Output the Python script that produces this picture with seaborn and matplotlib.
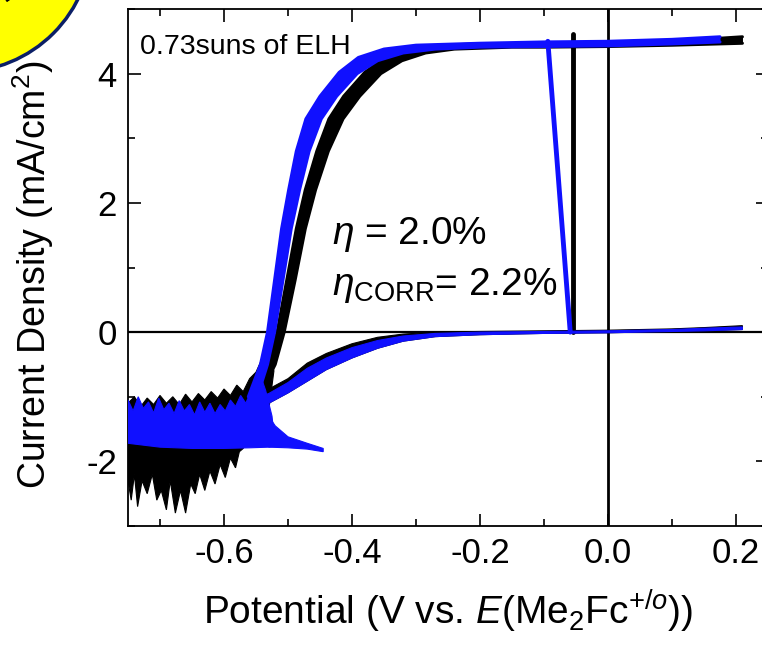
import matplotlib
matplotlib.use("Agg")
import matplotlib.pyplot as plt
from matplotlib.patches import Ellipse
from matplotlib.ticker import MultipleLocator
import seaborn as sns
import numpy as np

# ---------------- data ----------------
# illuminated (upper) branch, left / right edges of the band of cycles
BLUE_UP_L_X = [-0.562, -0.543, -0.532, -0.521, -0.510, -0.499, -0.487, -0.472, -0.450, -0.420, -0.390, -0.350, -0.300, -0.200, -0.100, 0.000, 0.100, 0.175]
BLUE_UP_L_Y = [-1.00, -0.50, 0.00, 0.80, 1.60, 2.20, 2.80, 3.30, 3.65, 4.02, 4.25, 4.38, 4.44, 4.47, 4.49, 4.50, 4.53, 4.57]
BLUE_UP_R_X = [-0.548, -0.532, -0.521, -0.508, -0.495, -0.482, -0.467, -0.448, -0.424, -0.392, -0.360, -0.320, -0.270, -0.200, -0.100, 0.000, 0.100, 0.175]
BLUE_UP_R_Y = [-1.00, -0.50, 0.00, 0.80, 1.60, 2.20, 2.80, 3.30, 3.65, 4.00, 4.20, 4.32, 4.38, 4.41, 4.42, 4.43, 4.46, 4.49]

BLACK_UP_L_X = [-0.552, -0.530, -0.517, -0.502, -0.487, -0.473, -0.455, -0.436, -0.413, -0.380, -0.348, -0.310, -0.262, -0.200, -0.100, 0.000, 0.100, 0.210]
BLACK_UP_L_Y = [-1.00, -0.50, 0.00, 0.80, 1.60, 2.20, 2.80, 3.30, 3.65, 4.02, 4.25, 4.38, 4.44, 4.46, 4.47, 4.48, 4.50, 4.57]
BLACK_UP_R_X = [-0.545, -0.520, -0.506, -0.489, -0.473, -0.457, -0.437, -0.414, -0.388, -0.355, -0.322, -0.285, -0.240, -0.150, -0.100, 0.000, 0.100, 0.210]
BLACK_UP_R_Y = [-1.00, -0.50, 0.00, 0.80, 1.60, 2.20, 2.80, 3.30, 3.65, 4.00, 4.20, 4.32, 4.38, 4.41, 4.41, 4.42, 4.44, 4.47]

# light-off drops
BLUE_DROP_X = [-0.094, -0.059]
BLUE_DROP_Y = [4.50, 0.00]
BLACK_DROP_X = [-0.055, -0.055, -0.055]
BLACK_DROP_Y = [4.62, 4.45, 0.00]

# dark (lower) branch
DARK_X = [0.21, 0.15, 0.10, 0.00, -0.10, -0.20, -0.27, -0.32, -0.36, -0.40, -0.44, -0.47, -0.50, -0.53, -0.56]
DARK_TOP_BLACK = [0.10, 0.07, 0.05, 0.03, 0.02, 0.01, 0.00, -0.03, -0.08, -0.18, -0.33, -0.48, -0.72, -0.88, -0.98]
DARK_TOP_BLUE = [0.08, 0.06, 0.04, 0.02, 0.01, 0.00, -0.02, -0.06, -0.13, -0.24, -0.40, -0.56, -0.78, -0.95, -1.05]
DARK_BOT = [0.04, 0.02, 0.01, -0.01, -0.02, -0.04, -0.07, -0.14, -0.25, -0.40, -0.58, -0.76, -0.94, -1.10, -1.22]

# noisy region at negative potentials (envelopes)
BLACK_NOISE_X = [-0.750, -0.740, -0.730, -0.720, -0.710, -0.700, -0.690, -0.680, -0.670, -0.660, -0.650, -0.640,
                 -0.630, -0.620, -0.610, -0.600, -0.590, -0.580, -0.570, -0.560, -0.550, -0.540, -0.530,
                 -0.522, -0.530, -0.560, -0.570,
                 -0.576, -0.582, -0.590, -0.598, -0.606, -0.614, -0.622, -0.630, -0.638, -0.645, -0.652, -0.660,
                 -0.668, -0.676, -0.684, -0.690, -0.698, -0.705, -0.712, -0.720, -0.728, -0.735, -0.740, -0.745, -0.750]
BLACK_NOISE_Y = [-1.10, -1.00, -1.15, -1.02, -1.12, -0.98, -1.10, -1.00, -1.12, -0.96, -1.08, -0.95,
                 -1.05, -0.92, -1.02, -0.88, -0.98, -0.82, -0.92, -0.72, -0.62, -0.40, -0.30,
                 -0.60, -1.20, -1.60, -1.80,
                 -1.85, -2.10, -1.95, -2.25, -2.05, -2.35, -2.15, -2.45, -2.20, -2.50, -2.35, -2.80,
                 -2.45, -2.80, -2.30, -2.75, -2.45, -2.60, -2.20, -2.50, -2.30, -2.70, -2.20, -2.60, -2.30]

BLUE_NOISE_X = [-0.750, -0.742, -0.734, -0.726, -0.718, -0.710, -0.702, -0.694, -0.686, -0.678, -0.670, -0.662,
                -0.654, -0.646, -0.638, -0.630, -0.622, -0.614, -0.606, -0.598, -0.590, -0.582, -0.574, -0.566,
                -0.558, -0.550, -0.542, -0.535, -0.525, -0.520,
                -0.530, -0.560, -0.600, -0.650, -0.700, -0.750]
BLUE_NOISE_Y = [-1.05, -1.22, -1.00, -1.18, -1.08, -1.25, -1.02, -1.20, -1.10, -1.26, -1.06, -1.22,
                -1.12, -1.28, -1.08, -1.24, -1.10, -1.26, -1.12, -1.22, -1.05, -1.15, -0.98, -1.10,
                -0.92, -0.85, -0.70, -0.90, -1.30, -1.76,
                -1.78, -1.79, -1.80, -1.80, -1.78, -1.72]

BLUE_TAIL_X = [-0.530, -0.520, -0.500, -0.470, -0.445, -0.445, -0.470, -0.500, -0.530]
BLUE_TAIL_Y = [-1.30, -1.45, -1.62, -1.72, -1.80, -1.85, -1.81, -1.79, -1.78]

X_TICKS = [-0.6, -0.4, -0.2, 0.0, 0.2]
Y_TICKS = [-2, 0, 2, 4]

BLUE = "#1010ff"
BLACK = "#000000"

# ---------------- style ----------------
sns.set_theme(style="ticks")
plt.rcParams["font.family"] = ["Liberation Sans", "DejaVu Sans"]
plt.rcParams["mathtext.fontset"] = "custom"
plt.rcParams["mathtext.rm"] = "Liberation Sans"
plt.rcParams["mathtext.it"] = "Liberation Sans:italic"
plt.rcParams["mathtext.bf"] = "Liberation Sans:bold"

fig = plt.figure(figsize=(7.62, 6.47), dpi=100)
ax = fig.add_axes([128 / 762, 121 / 647, 640 / 762, 517 / 647])

# axes lines
ax.axhline(0, color="black", lw=1.6, zorder=1)
ax.axvline(0, color="black", lw=2.0, zorder=1)

# black data
ax.fill(BLACK_NOISE_X, BLACK_NOISE_Y, color=BLACK, lw=0.8, zorder=2)
ax.fill(DARK_X + DARK_X[::-1], DARK_TOP_BLACK + DARK_BOT[::-1], color=BLACK, lw=0.8, zorder=2)
ax.fill(BLACK_UP_L_X + BLACK_UP_R_X[::-1], BLACK_UP_L_Y + BLACK_UP_R_Y[::-1], color=BLACK, lw=0.8, zorder=2)
for xs, ys in [(BLACK_UP_L_X, BLACK_UP_L_Y), (BLACK_UP_R_X, BLACK_UP_R_Y)]:
    sns.lineplot(x=xs, y=ys, sort=False, estimator=None, color=BLACK, lw=2.2, ax=ax, zorder=2)
sns.lineplot(x=BLACK_DROP_X, y=BLACK_DROP_Y, sort=False, estimator=None, color=BLACK, lw=3.5, ax=ax, zorder=2)

# blue data
ax.fill(BLUE_NOISE_X, BLUE_NOISE_Y, color=BLUE, lw=0.8, zorder=3)
ax.fill(BLUE_TAIL_X, BLUE_TAIL_Y, color=BLUE, lw=0.8, zorder=3)
ax.fill(DARK_X + DARK_X[::-1], DARK_TOP_BLUE + DARK_BOT[::-1], color=BLUE, lw=0.8, zorder=3)
ax.fill(BLUE_UP_L_X + BLUE_UP_R_X[::-1], BLUE_UP_L_Y + BLUE_UP_R_Y[::-1], color=BLUE, lw=0.8, zorder=3)
for xs, ys in [(BLUE_UP_L_X, BLUE_UP_L_Y), (BLUE_UP_R_X, BLUE_UP_R_Y)]:
    sns.lineplot(x=xs, y=ys, sort=False, estimator=None, color=BLUE, lw=2.2, ax=ax, zorder=3)
sns.lineplot(x=BLUE_DROP_X, y=BLUE_DROP_Y, sort=False, estimator=None, color=BLUE, lw=3.5, ax=ax, zorder=3)

ax.set_xlim(-0.75, 0.25)
ax.set_ylim(-3, 5)
ax.set_xticks(X_TICKS)
ax.set_yticks(Y_TICKS)
ax.set_xticklabels([f"{v:.1f}" for v in X_TICKS])
ax.set_yticklabels([str(v) for v in Y_TICKS])
ax.xaxis.set_minor_locator(MultipleLocator(0.1))
ax.yaxis.set_minor_locator(MultipleLocator(1))
ax.tick_params(which="both", direction="in", top=True, right=True, width=1.2, colors="black")
ax.tick_params(which="major", length=9, labelsize=25, pad=8)
ax.tick_params(which="minor", length=5)
for s in ax.spines.values():
    s.set_linewidth(1.3)
    s.set_color("black")

ax.set_xlabel(r"Potential (V vs. $E$(Me$_2$Fc$^{+/o}$))", fontsize=28, color="black")
ax.set_ylabel(r"Current Density (mA/cm$^2$)", fontsize=27, color="black")
ax.yaxis.set_label_coords(-0.113, 0.486)
ax.xaxis.set_label_coords(0.5, -0.12)

ax.text(-0.731, 4.31, "0.73suns of ELH", fontsize=20.5, color="black")
ax.text(-0.432, 1.36, r"$\eta$ = 2.0%", fontsize=28, color="black")
ax.text(-0.432, 0.57, r"$\eta_{\mathrm{CORR}}$= 2.2%", fontsize=28, color="black")

# corner badge (partially outside the figure)
badge = Ellipse((-40 / 762, 1 + 60 / 647), 2 * 132 / 762, 2 * 132 / 647, transform=fig.transFigure,
                facecolor="#ffff00", edgecolor="#0b1f66", lw=2.5, zorder=10)
fig.add_artist(badge)
fig.text(48 / 762, 1 - 6 / 647, "Hot Paper", rotation=35, ha="right", va="center",
         fontsize=24, fontweight="bold", color="black", zorder=11)

fig.savefig("out.png", dpi=100)
